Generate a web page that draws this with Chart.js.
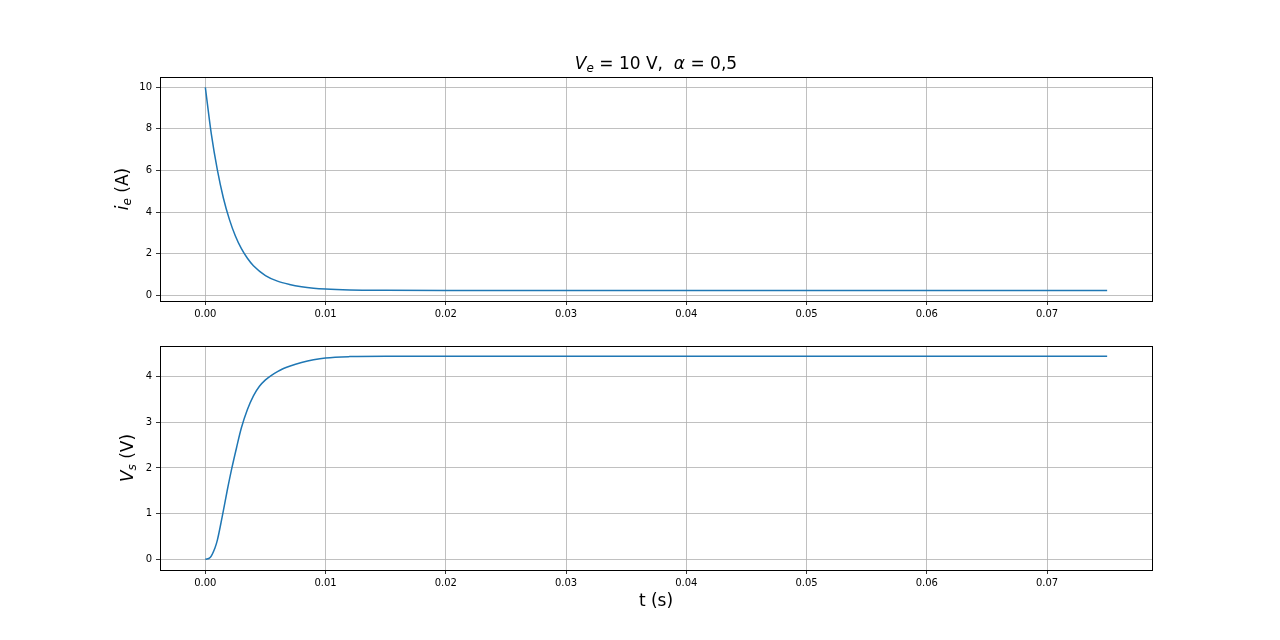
<!DOCTYPE html>
<html>
<head>
<meta charset="utf-8">
<script src="https://cdn.jsdelivr.net/npm/chart.js@4.4.1/dist/chart.umd.min.js"></script>
<style>
  body { margin: 0; background: white; }
  #fig { position: relative; width: 1280px; height: 640px; font-family: "DejaVu Sans", sans-serif; }
  .caixa { position: absolute; left: 0; width: 1280px; }
  .rotulo { position: absolute; font-size: 17px; color: black; white-space: nowrap; transform: translate(-50%, -50%); }
  .vertical { transform: translate(-50%, -50%) rotate(-90deg); }
  .rotulo sub { font-size: 12px; vertical-align: -3px; }
</style>
</head>
<body>
<div id="fig">
  <div class="caixa" style="top:0;height:330px"><canvas id="graficoIe"></canvas></div>
  <div class="caixa" style="top:320px;height:320px"><canvas id="graficoVs"></canvas></div>
  <div class="rotulo" style="left:656px;top:64px"><i>V</i><sub><i>e</i></sub> = 10 V,&nbsp; <i>α</i> = 0,5</div>
  <div class="rotulo vertical" style="left:123px;top:189px"><i>i</i><sub><i>e</i></sub> (A)</div>
  <div class="rotulo vertical" style="left:128px;top:458px"><i>V</i><sub><i>s</i></sub> (V)</div>
  <div class="rotulo" style="left:656px;top:600px">t (s)</div>
</div>
<script>
// dados
const tempoIe = [0, 0.0005, 0.001, 0.0015, 0.002, 0.0025, 0.003, 0.0035, 0.004, 0.005, 0.006, 0.007, 0.008, 0.009, 0.01, 0.012, 0.015, 0.02, 0.03, 0.05, 0.075];
const correnteIe = [10, 7.75, 6.03, 4.68, 3.65, 2.85, 2.24, 1.78, 1.42, 0.95, 0.68, 0.52, 0.41, 0.34, 0.30, 0.26, 0.24, 0.23, 0.23, 0.23, 0.23];

const tempoVs = [0, 0.0004, 0.0008, 0.001, 0.0014, 0.0018, 0.0022, 0.0026, 0.003, 0.0035, 0.004, 0.0045, 0.005, 0.0055, 0.006, 0.0065, 0.007, 0.008, 0.009, 0.01, 0.012, 0.015, 0.02, 0.03, 0.075];
const tensaoVs = [0, 0.04, 0.25, 0.42, 0.93, 1.48, 1.99, 2.45, 2.88, 3.28, 3.58, 3.79, 3.93, 4.03, 4.11, 4.18, 4.23, 4.31, 4.37, 4.41, 4.44, 4.45, 4.45, 4.45, 4.45];

const ticksX = [0, 0.01, 0.02, 0.03, 0.04, 0.05, 0.06, 0.07];
const ticksIe = [0, 2, 4, 6, 8, 10];
const ticksVs = [0, 1, 2, 3, 4];

const moldura = {
    id: 'moldura',
    afterDraw(chart) {
        const a = chart.chartArea;
        const ctx = chart.ctx;
        ctx.save();
        ctx.strokeStyle = 'black';
        ctx.lineWidth = 1;
        ctx.strokeRect(Math.round(a.left) + 0.5, Math.round(a.top) + 0.5, Math.round(a.right - a.left), Math.round(a.bottom - a.top));
        ctx.restore();
    }
};

function criarGrafico(id, tempos, valores, ticksY, yMin, yMax, padTopo, alturaX) {
    const pontos = tempos.map((t, i) => ({ x: t, y: valores[i] }));
    const fonte = { family: 'DejaVu Sans', size: 10 };
    return new Chart(document.getElementById(id), {
        type: 'line',
        data: {
            datasets: [{
                data: pontos,
                borderColor: '#1f77b4',
                borderWidth: 1.5,
                pointRadius: 0,
                cubicInterpolationMode: 'monotone',
                fill: false
            }]
        },
        options: {
            responsive: true,
            maintainAspectRatio: false,
            animation: false,
            layout: { padding: { top: padTopo, right: 128, left: 0, bottom: 0 } },
            plugins: { legend: { display: false }, tooltip: { enabled: false } },
            scales: {
                x: {
                    type: 'linear',
                    min: -0.00377,
                    max: 0.07873,
                    afterBuildTicks: (s) => { s.ticks = ticksX.map(v => ({ value: v })); },
                    afterFit: (s) => { s.height = alturaX; },
                    border: { display: false },
                    grid: { color: '#b0b0b0', lineWidth: 0.8, tickColor: 'black', tickLength: 4 },
                    ticks: { color: 'black', font: fonte, padding: 3, maxRotation: 0, callback: (v) => v.toFixed(2) }
                },
                y: {
                    min: yMin,
                    max: yMax,
                    afterBuildTicks: (s) => { s.ticks = ticksY.map(v => ({ value: v })); },
                    afterFit: (s) => { s.width = 160; },
                    border: { display: false },
                    grid: { color: '#b0b0b0', lineWidth: 0.8, tickColor: 'black', tickLength: 4 },
                    ticks: { color: 'black', font: fonte, padding: 4, callback: (v) => String(v) }
                }
            }
        },
        plugins: [moldura]
    });
}

criarGrafico('graficoIe', tempoIe, correnteIe, ticksIe, -0.274, 10.495, 77, 29);
criarGrafico('graficoVs', tempoVs, tensaoVs, ticksVs, -0.234, 4.672, 26, 70);
</script>
</body>
</html>
